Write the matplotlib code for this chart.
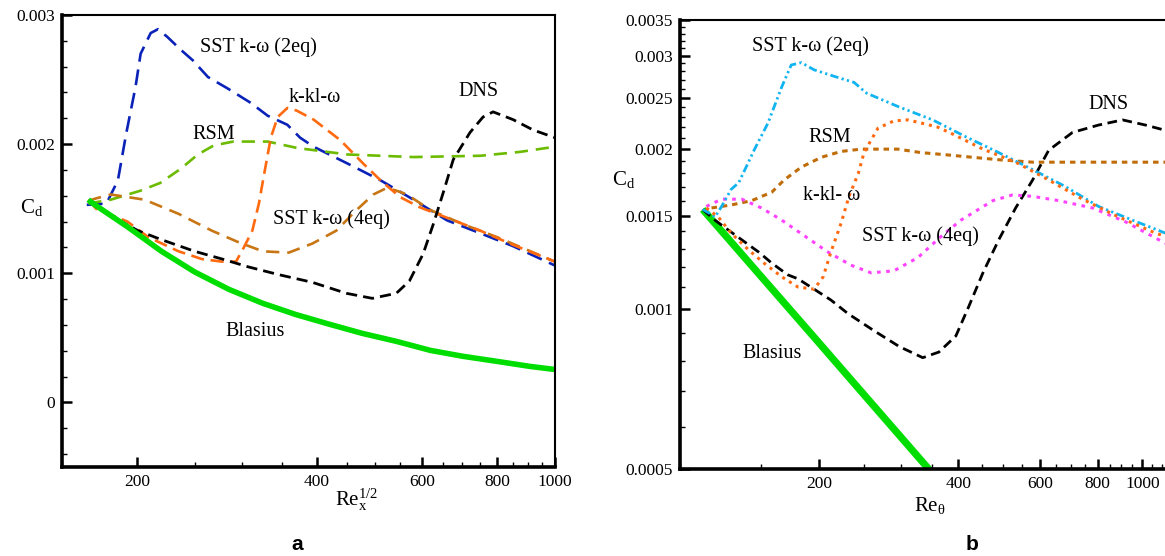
import matplotlib
matplotlib.use("Agg")
import matplotlib.pyplot as plt
from matplotlib.ticker import FixedLocator, MultipleLocator, FuncFormatter, NullFormatter

plt.rcParams['font.family'] = ['Liberation Serif', 'DejaVu Serif']
plt.rcParams['mathtext.fontset'] = 'custom'
plt.rcParams['mathtext.rm'] = 'Liberation Serif'
plt.rcParams['mathtext.it'] = 'Liberation Serif:italic'

# ---- panel a : Cd vs Re_x^(1/2) ----
a_blasius_x = [166, 169, 193, 220, 250, 285, 325, 368, 420, 476, 543, 619, 702, 800, 908, 1000]
a_blasius_y = [0.00157, 0.00154, 0.00136, 0.00117, 0.00101, 0.000876, 0.000767, 0.000682, 0.000605,
               0.000535, 0.000473, 0.000403, 0.000357, 0.000318, 0.000279, 0.000255]

a_sst2_x = [165, 178, 186, 192, 199, 203, 211, 217, 225, 237, 248, 263, 284, 310, 331, 357, 375,
            395, 450, 511, 580, 660, 750, 851, 1000]
a_sst2_y = [0.00153, 0.00154, 0.00172, 0.00208, 0.00244, 0.00270, 0.00286, 0.00289, 0.00283, 0.00273,
            0.00265, 0.00252, 0.00243, 0.00232, 0.00222, 0.00215, 0.00205, 0.00198, 0.00185, 0.00172,
            0.00157, 0.00141, 0.00131, 0.00121, 0.00106]

a_kkl_x = [166, 171, 193, 209, 235, 257, 278, 293, 302, 312, 320, 326, 335, 344, 357, 370,
           395, 438, 478, 511, 551, 595, 660, 750, 851, 1000]
a_kkl_y = [0.00157, 0.00150, 0.00140, 0.00128, 0.00117, 0.00111, 0.00109, 0.00109, 0.00120, 0.00133,
           0.00154, 0.00175, 0.00205, 0.00221, 0.00228, 0.00226, 0.00219, 0.00203, 0.00185,
           0.00172, 0.00159, 0.00151, 0.00143, 0.00133, 0.00122, 0.00109]

a_rsm_x = [166, 181, 203, 219, 237, 253, 269, 290, 331, 371, 450, 580, 750, 874, 1000]
a_rsm_y = [0.00154, 0.00157, 0.00164, 0.00170, 0.00181, 0.00192, 0.00199, 0.00202, 0.00202, 0.00197,
           0.00192, 0.00190, 0.00191, 0.00194, 0.00198]

a_sst4_x = [166, 171, 181, 206, 235, 267, 296, 325, 359, 393, 431, 466, 497, 523, 543, 566, 619,
            702, 800, 1000]
a_sst4_y = [0.00156, 0.00158, 0.00161, 0.00157, 0.00146, 0.00133, 0.00124, 0.00117, 0.00116, 0.00123,
            0.00133, 0.00149, 0.00161, 0.00166, 0.00164, 0.00161, 0.00149, 0.00138, 0.00128, 0.00109]

a_dns_x = [166, 180, 201, 220, 250, 278, 307, 345, 393, 448, 495, 543, 571, 602, 626, 650, 676,
           721, 758, 788, 851, 919, 1000]
a_dns_y = [0.00156, 0.00145, 0.00133, 0.00126, 0.00117, 0.00111, 0.00105, 0.00099, 0.00093, 0.000845,
           0.000806, 0.000845, 0.00094, 0.00115, 0.00138, 0.00162, 0.00188, 0.00209, 0.00221, 0.00225,
           0.00219, 0.00211, 0.00205]

# ---- panel b : Cd vs Re_theta ----
b_blasius_x = [112, 150, 200, 250, 300, 345, 400]
b_blasius_y = [0.00154, 0.00115, 0.000863, 0.00069, 0.000575, 0.0005, 0.00043]

b_sst2_x = [112, 115, 119, 123, 129, 134, 145, 155, 166, 174, 183, 195, 216, 238, 253, 298, 352,
            415, 489, 579, 682, 804, 952, 1121]
b_sst2_y = [0.00154, 0.00152, 0.00149, 0.00156, 0.00168, 0.00173, 0.00200, 0.00224, 0.00262, 0.00288,
            0.00291, 0.00282, 0.00274, 0.00267, 0.00255, 0.00240, 0.00227, 0.00211, 0.00197, 0.00183,
            0.00170, 0.00156, 0.00147, 0.00139]

b_kkl_x = [114, 121, 129, 141, 152, 166, 180, 195, 204, 212, 223, 232, 243, 250, 259, 268, 290,
           311, 332, 361, 391, 452, 532, 627, 742, 875, 1067, 1121]
b_kkl_y = [0.00155, 0.00149, 0.00139, 0.00129, 0.00122, 0.00115, 0.00110, 0.00109, 0.00115, 0.00128,
           0.00145, 0.00163, 0.00180, 0.00197, 0.00208, 0.00219, 0.00226, 0.00227, 0.00224, 0.00220,
           0.00213, 0.00200, 0.00189, 0.00175, 0.00161, 0.00150, 0.00139, 0.00137]

b_sst4_x = [114, 123, 136, 150, 166, 180, 209, 234, 259, 290, 327, 367, 405, 475, 524, 579, 659,
            780, 919, 1121]
b_sst4_y = [0.00156, 0.00161, 0.00161, 0.00155, 0.00147, 0.00140, 0.00128, 0.00121, 0.00117, 0.00118,
            0.00125, 0.00137, 0.00147, 0.00160, 0.00164, 0.00163, 0.00160, 0.00155, 0.00146, 0.00133]

b_rsm_x = [117, 129, 143, 158, 168, 183, 202, 223, 246, 268, 296, 332, 380, 489, 579, 804, 1121]
b_rsm_y = [0.00155, 0.00157, 0.00160, 0.00166, 0.00175, 0.00185, 0.00193, 0.00198, 0.00200, 0.00200,
           0.00200, 0.00197, 0.00195, 0.00191, 0.00189, 0.00189, 0.00189]

b_dns_x = [112, 119, 127, 136, 148, 158, 171, 180, 195, 212, 231, 263, 298, 335, 363, 395, 421,
           452, 489, 532, 579, 627, 706, 804, 906, 1015, 1121]
b_dns_y = [0.00154, 0.00147, 0.00141, 0.00135, 0.00128, 0.00122, 0.00116, 0.00114, 0.00109, 0.00104,
           0.00098, 0.00091, 0.00085, 0.00081, 0.00083, 0.00089, 0.00101, 0.00117, 0.00135, 0.00155,
           0.00175, 0.00199, 0.00215, 0.00222, 0.00227, 0.00222, 0.00217]

a_xticks = [200, 400, 600, 800, 1000]
b_xticks = [200, 400, 600, 800, 1000]
b_yticks = [0.0005, 0.001, 0.0015, 0.002, 0.0025, 0.003, 0.0035]

W, H = 1165, 556
fig = plt.figure(figsize=(W / 100, H / 100), dpi=100)


def px(x, y):
    return x / W, 1 - y / H


def style_axes(ax):
    for s in ['left', 'bottom']:
        ax.spines[s].set_linewidth(2.6)
    for s in ['top', 'right']:
        ax.spines[s].set_linewidth(1.5)
    ax.tick_params(which='both', direction='in', top=False, right=False, labelsize=12.5, pad=5)
    ax.tick_params(which='major', length=7, width=1.8)
    ax.tick_params(which='minor', length=3.5, width=1.0)


gfmt = FuncFormatter(lambda v, p: '%g' % round(v, 6))

# panel a
ax1 = fig.add_axes([62 / W, 1 - 467 / H, (555 - 62) / W, (467 - 15) / H])
ax1.set_xscale('log')
ax1.plot(a_sst2_x, a_sst2_y, color='#0a22b8', lw=1.9, dashes=(6, 3))
ax1.plot(a_rsm_x, a_rsm_y, color='#6cbb00', lw=1.9, dashes=(5, 3))
ax1.plot(a_sst4_x, a_sst4_y, color='#c87514', lw=1.9, dashes=(5, 3))
ax1.plot(a_kkl_x, a_kkl_y, color='#ff6a10', lw=1.9, dashes=(5, 2.5))
ax1.plot(a_dns_x, a_dns_y, color='black', lw=2.0, dashes=(4, 2.2))
ax1.plot(a_blasius_x, a_blasius_y, color='#00dd00', lw=4.0, solid_capstyle='butt')
ax1.set_xlim(150, 1000)
ax1.set_ylim(-0.0005, 0.003)
ax1.xaxis.set_major_locator(FixedLocator(a_xticks))
ax1.xaxis.set_major_formatter(gfmt)
ax1.xaxis.set_minor_locator(MultipleLocator(50))
ax1.xaxis.set_minor_formatter(NullFormatter())
ax1.yaxis.set_major_locator(MultipleLocator(0.001))
ax1.yaxis.set_major_formatter(gfmt)
ax1.yaxis.set_minor_locator(MultipleLocator(0.0002))
style_axes(ax1)

# panel b
ax2 = fig.add_axes([680 / W, 1 - 469 / H, (1179 - 680) / W, (469 - 20) / H])
ax2.set_xscale('log')
ax2.set_yscale('log')
ax2.plot(b_blasius_x, b_blasius_y, color='#00dd00', lw=5.2, solid_capstyle='butt')
ax2.plot(b_dns_x, b_dns_y, color='black', lw=2.0, dashes=(3.5, 2))
ax2.plot(b_rsm_x, b_rsm_y, color='#c06c08', lw=2.2, dashes=(1.8, 1.6))
ax2.plot(b_sst4_x, b_sst4_y, color='#ff44ff', lw=2.2, dashes=(1.2, 1.8))
ax2.plot(b_sst2_x, b_sst2_y, color='#10b4f0', lw=2.0, dashes=(3, 1.2, 0.8, 1.2, 0.8, 1.2))
ax2.plot(b_kkl_x, b_kkl_y, color='#ff6a10', lw=2.2, dashes=(1.0, 1.6))
ax2.set_xlim(100, 1200)
ax2.set_ylim(0.0005, 0.0035)
ax2.xaxis.set_major_locator(FixedLocator(b_xticks))
ax2.xaxis.set_major_formatter(gfmt)
ax2.xaxis.set_minor_locator(MultipleLocator(50))
ax2.xaxis.set_minor_formatter(NullFormatter())
ax2.yaxis.set_major_locator(FixedLocator(b_yticks))
ax2.yaxis.set_major_formatter(gfmt)
ax2.yaxis.set_minor_locator(MultipleLocator(0.0001))
ax2.yaxis.set_minor_formatter(NullFormatter())
style_axes(ax2)

# curve labels
lab = dict(fontsize=14.5, va='center', ha='left')
fig.text(*px(200, 47), 'SST k-ω (2eq)', **lab)
fig.text(*px(289, 97), 'k-kl-ω', **lab)
fig.text(*px(192, 134), 'RSM', **lab)
fig.text(*px(273, 219), 'SST k-ω (4eq)', **lab)
fig.text(*px(458, 92), 'DNS', **lab)
fig.text(*px(225, 331), 'Blasius', **lab)

fig.text(*px(752, 46), 'SST k-ω (2eq)', **lab)
fig.text(*px(808, 138), 'RSM', **lab)
fig.text(*px(803, 196), 'k-kl- ω', **lab)
fig.text(*px(862, 236), 'SST k-ω (4eq)', **lab)
fig.text(*px(1088, 105), 'DNS', **lab)
fig.text(*px(742, 353), 'Blasius', **lab)

# axis titles
fig.text(*px(32, 207), r'$\mathrm{C_d}$', fontsize=15, ha='center', va='center')
fig.text(*px(624, 180), r'$\mathrm{C_d}$', fontsize=15, ha='center', va='center')
fig.text(*px(357, 500), r'$\mathrm{Re_x^{1/2}}$', fontsize=15, ha='center', va='center')
fig.text(*px(930, 505), r'$\mathrm{Re_\theta}$', fontsize=15, ha='center', va='center')

fig.text(*px(297, 545), 'a', fontsize=15, fontweight='bold', family='Liberation Sans', ha='center', va='center')
fig.text(*px(972, 545), 'b', fontsize=15, fontweight='bold', family='Liberation Sans', ha='center', va='center')

fig.savefig('out.png', dpi=100)
